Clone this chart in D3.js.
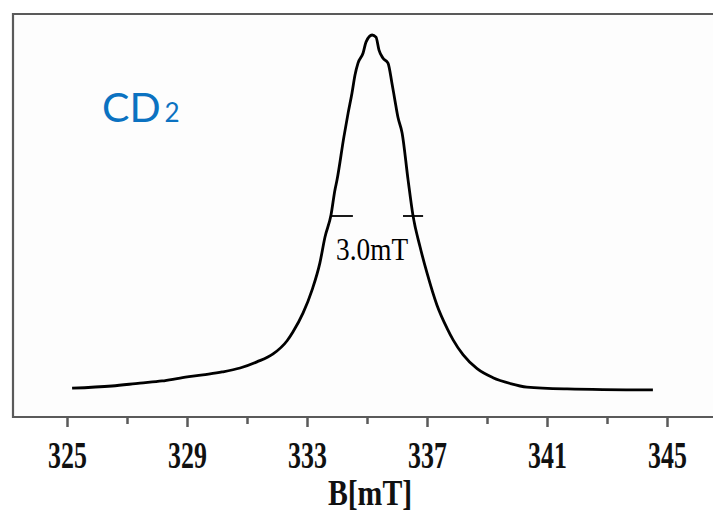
<!DOCTYPE html>
<html>
<head>
<meta charset="utf-8">
<script src="https://cdn.jsdelivr.net/npm/d3@7"></script>
<style>
  html, body { margin: 0; padding: 0; background: #ffffff; }
  svg { display: block; }
</style>
</head>
<body>
<svg id="chart" width="713" height="513"></svg>
<script>
// EPR spectrum of CD2: field (mT) and signal intensity (a.u.)
const fieldB = [325.17, 326.50, 327.43, 328.17, 328.77, 329.53, 330.17, 330.77, 331.33, 331.87,
  332.33, 332.53, 332.87, 333.17, 333.43, 333.60, 333.80, 333.93, 334.00, 334.23,
  334.37, 334.50, 334.60, 334.70, 334.87, 334.97, 335.17, 335.30, 335.40, 335.53,
  335.70, 335.83, 335.93, 336.03, 336.17, 336.37, 336.53, 336.77, 337.00, 337.33,
  337.67, 337.87, 338.20, 338.67, 339.20, 339.77, 340.33, 341.67, 344.53];
const intensity = [1.9, 2.5, 3.3, 3.9, 4.7, 5.6, 6.4, 7.5, 9.2, 11.4,
  15.0, 17.5, 22.8, 29.2, 36.7, 43.9, 50.0, 56.9, 59.7, 71.7,
  78.3, 83.9, 88.9, 92.2, 95.0, 98.1, 100.0, 99.4, 95.8, 93.6,
  92.2, 86.7, 81.9, 77.2, 72.8, 59.7, 50.0, 41.1, 33.9, 25.0,
  18.5, 15.3, 11.2, 7.3, 4.8, 3.2, 2.2, 1.7, 1.4];

// Axis ticks
const majorTicks = [325, 329, 333, 337, 341, 345];
const minorTicks = [327, 331, 335, 339, 343, 347];
const axisTitle = "B[mT]";

// Line-width markers at half maximum and their label
const halfLevel = [50];
const widthMarkers = [[333.83, 334.53], [336.20, 336.87]];
const widthLabel = ["3.0mT"];
const sampleName = "CD";
const sampleSub = "2";

const svg = d3.select("#chart");

const x = d3.scaleLinear().domain([325, 345]).range([67, 667]);
const y = d3.scaleLinear().domain([0, 100]).range([395, 35]);

const frameLeft = 13, frameTop = 14, frameBottom = 417, frameRight = 720;
const frameColor = "#5a5a5a";

// plot frame (left, top, bottom; open on the right)
svg.append("path")
  .attr("d", `M${frameRight},${frameTop} H${frameLeft} V${frameBottom} H${frameRight}`)
  .attr("fill", "#fdfdfd")
  .attr("stroke", frameColor)
  .attr("stroke-width", 2.2);

// bottom axis: major ticks with labels, minor ticks without
const axisMajor = d3.axisBottom(x)
  .tickValues(majorTicks)
  .tickSize(10)
  .tickSizeOuter(0)
  .tickFormat(d3.format("d"));

const gMajor = svg.append("g")
  .attr("transform", `translate(0,${frameBottom})`)
  .call(axisMajor);
gMajor.select(".domain").remove();
gMajor.selectAll(".tick line")
  .attr("stroke", frameColor)
  .attr("stroke-width", 2.5);
gMajor.selectAll(".tick text")
  .attr("y", 0)
  .attr("dy", 0)
  .attr("fill", "#111")
  .attr("font-family", "'Liberation Serif', 'DejaVu Serif', serif")
  .attr("font-weight", "bold")
  .attr("font-size", 37)
  .attr("text-anchor", "middle")
  .attr("transform", "translate(0,51) scale(0.7,1)");

const axisMinor = d3.axisBottom(x)
  .tickValues(minorTicks.filter(v => x(v) < 713))
  .tickSize(7)
  .tickSizeOuter(0)
  .tickFormat("");
const gMinor = svg.append("g")
  .attr("transform", `translate(0,${frameBottom})`)
  .call(axisMinor);
gMinor.select(".domain").remove();
gMinor.selectAll(".tick line")
  .attr("stroke", frameColor)
  .attr("stroke-width", 2.5);

// axis title
svg.append("text")
  .attr("transform", `translate(${x(335) + 3},505) scale(0.85,1)`)
  .attr("text-anchor", "middle")
  .attr("font-family", "'Liberation Serif', 'DejaVu Serif', serif")
  .attr("font-weight", "bold")
  .attr("font-size", 35)
  .attr("fill", "#111")
  .text(axisTitle);

// spectrum
const points = fieldB.map((b, i) => [b, intensity[i]]);
const line = d3.line()
  .x(d => x(d[0]))
  .y(d => y(d[1]))
  .curve(d3.curveMonotoneX);

svg.append("path")
  .datum(points)
  .attr("d", line)
  .attr("fill", "none")
  .attr("stroke", "#000")
  .attr("stroke-width", 2.8)
  .attr("stroke-linejoin", "round")
  .attr("stroke-linecap", "butt");

// half-maximum width markers
svg.selectAll("line.fwhm")
  .data(widthMarkers)
  .join("line")
  .attr("class", "fwhm")
  .attr("x1", d => x(d[0]))
  .attr("x2", d => x(d[1]))
  .attr("y1", y(halfLevel[0]) + 1)
  .attr("y2", y(halfLevel[0]) + 1)
  .attr("stroke", "#000")
  .attr("stroke-width", 1.8);

svg.append("text")
  .attr("transform", `translate(${x(335.17)},260) scale(0.88,1)`)
  .attr("text-anchor", "middle")
  .attr("font-family", "'Liberation Serif', 'DejaVu Serif', serif")
  .attr("font-size", 31)
  .attr("fill", "#000")
  .text(widthLabel[0]);

// sample label
const label = svg.append("text")
  .attr("x", 102)
  .attr("y", 122)
  .attr("font-family", "Lato, 'Open Sans', sans-serif")
  .attr("font-size", 41)
  .attr("fill", "#0b72c1");
label.append("tspan").text(sampleName);
label.append("tspan")
  .attr("font-size", 26)
  .attr("dx", 4)
  .text(sampleSub);
</script>
</body>
</html>
